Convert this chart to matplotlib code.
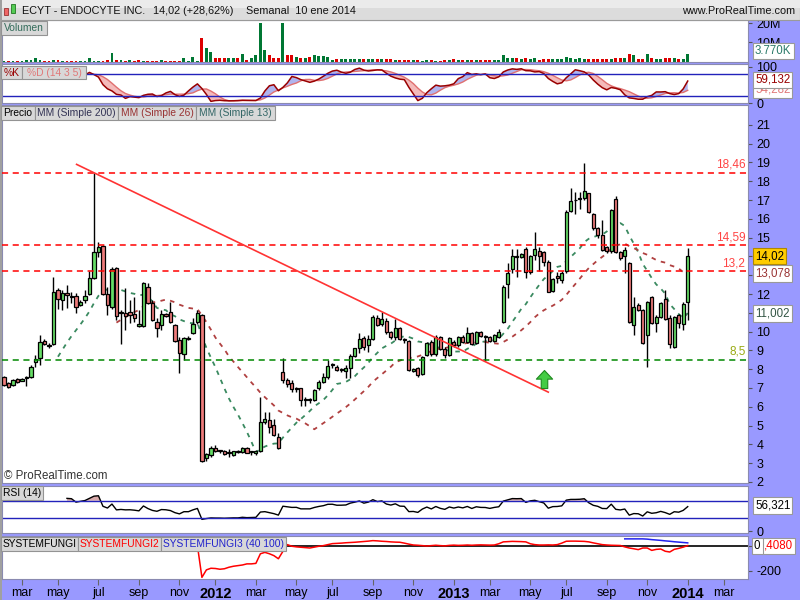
import numpy as np
import pandas as pd
import matplotlib
matplotlib.use('Agg')
import matplotlib.pyplot as plt
import matplotlib.dates as mdates
from matplotlib.patches import Rectangle
from matplotlib.path import Path

plt.rcParams['font.family'] = ['Liberation Sans', 'DejaVu Sans']

# weekly candles, ECYT
dates = pd.date_range('2011-02-07', periods=153, freq='W-MON')
opens = [7.61, 7.29, 7.16, 7.50, 7.39, 7.55, 7.61, 8.37, 8.58, 9.52, 9.26, 9.33, 12.22, 11.68, 12.04, 11.86,
         11.91, 11.40, 11.68, 12.00, 12.84, 14.22, 14.57, 12.00, 11.29, 13.37, 10.98, 10.98, 11.07, 10.92,
         10.30, 10.30, 12.36, 11.54, 10.50, 10.35, 10.94, 11.03, 10.34, 9.56, 8.79, 9.61, 9.91, 10.50,
         10.89, 3.26, 3.42, 3.83, 3.65, 3.67, 3.56, 3.44, 3.62, 3.60, 3.79, 3.58, 3.53, 3.62, 5.21, 5.30,
         5.02, 4.38, 7.84, 7.43, 7.25, 6.98, 6.98, 6.37, 6.38, 6.37, 6.98, 7.30, 7.57, 8.23, 8.14, 7.96,
         7.93, 8.05, 8.72, 9.11, 9.68, 9.27, 9.59, 10.74, 10.39, 10.59, 10.00, 9.70, 10.18, 9.58, 9.52,
         7.91, 8.05, 7.73, 8.76, 9.47, 8.81, 9.70, 9.08, 8.76, 9.47, 9.29, 9.73, 9.47, 9.91, 9.38, 10.00,
         9.73, 9.70, 9.50, 9.73, 10.53, 12.52, 13.32, 13.99, 13.99, 14.38, 13.16, 14.08, 14.31, 14.26,
         13.72, 12.18, 12.96, 12.75, 13.23, 16.44, 17.00, 17.05, 17.09, 17.36, 16.24, 15.50, 15.12, 14.49,
         14.29, 17.04, 14.22, 14.02, 13.63, 10.35, 11.42, 11.13, 9.82, 11.83, 10.44, 10.80, 11.72, 10.71,
         9.20, 10.89, 10.43, 11.56]
highs = [7.65, 7.32, 7.50, 7.55, 7.52, 7.65, 8.20, 8.76, 9.82, 9.60, 9.38, 12.93, 12.30, 12.22, 12.48, 12.13,
         12.04, 11.68, 12.22, 13.20, 18.42, 14.79, 14.60, 12.39, 13.46, 13.46, 11.15, 12.30, 11.68, 11.86,
         11.15, 12.65, 12.57, 11.68, 10.71, 11.15, 11.00, 11.60, 10.40, 9.73, 9.73, 9.75, 10.71, 11.15,
         10.95, 3.55, 3.90, 3.95, 3.70, 3.70, 3.74, 3.65, 3.68, 3.85, 3.85, 3.65, 3.68, 6.54, 5.74, 5.74,
         5.34, 4.59, 8.58, 7.52, 7.43, 7.05, 7.02, 6.54, 6.45, 6.95, 7.43, 7.78, 8.49, 8.35, 8.20, 8.05,
         8.23, 8.80, 9.15, 9.91, 9.77, 9.82, 10.90, 10.89, 11.03, 10.71, 10.05, 10.67, 10.22, 9.65, 9.55,
         8.05, 8.10, 8.72, 9.45, 9.55, 9.80, 9.75, 9.20, 9.73, 9.55, 9.75, 9.80, 10.27, 10.00, 10.05, 10.05,
         9.80, 9.75, 9.85, 10.12, 12.48, 13.63, 14.38, 14.38, 14.20, 14.49, 14.10, 15.32, 14.52, 14.30,
         13.80, 12.85, 13.19, 13.20, 16.45, 17.62, 17.45, 17.45, 18.95, 17.40, 16.30, 15.55, 15.94, 14.55,
         16.50, 17.22, 14.30, 14.52, 13.70, 11.86, 11.50, 11.20, 11.65, 11.90, 10.89, 11.55, 12.22, 10.89,
         10.85, 10.95, 11.60, 14.43]
lows = [7.10, 7.00, 7.10, 7.25, 7.35, 7.10, 7.55, 8.14, 8.23, 9.28, 9.11, 9.28, 11.19, 11.15, 11.24, 11.51,
        10.98, 11.35, 11.51, 11.95, 12.80, 13.99, 11.95, 10.89, 11.20, 10.62, 9.33, 10.09, 10.44, 10.53,
        10.25, 10.25, 11.45, 10.55, 9.73, 10.09, 10.80, 10.45, 9.45, 7.78, 8.49, 9.56, 9.85, 10.40,
        3.05, 3.10, 3.35, 3.60, 3.55, 3.45, 3.35, 3.40, 3.55, 3.55, 3.52, 3.45, 3.45, 3.60, 5.10, 4.59,
        4.45, 3.74, 7.25, 7.07, 6.81, 6.81, 6.05, 6.05, 6.20, 6.30, 6.90, 7.25, 7.50, 8.05, 7.90, 7.85,
        7.52, 7.52, 8.65, 8.85, 9.02, 8.94, 9.55, 10.30, 10.30, 9.88, 9.60, 9.56, 9.56, 9.38, 7.90,
        7.85, 7.60, 7.68, 8.70, 8.72, 8.70, 9.00, 8.58, 8.70, 9.20, 9.20, 9.38, 9.40, 9.28, 9.33, 9.70,
        8.46, 9.45, 9.45, 9.65, 10.44, 11.77, 13.10, 12.89, 13.90, 12.84, 13.05, 13.81, 13.24, 13.50,
        12.10, 12.10, 12.57, 12.60, 13.10, 16.35, 16.24, 16.50, 17.00, 16.30, 15.40, 15.00, 14.30, 14.20,
        14.17, 14.17, 13.80, 13.10, 10.45, 9.82, 11.10, 9.33, 8.14, 10.40, 10.00, 10.75, 10.60, 9.11,
        9.15, 10.20, 10.09, 10.62]
closes = [7.16, 7.04, 7.43, 7.32, 7.48, 7.58, 8.14, 8.53, 9.47, 9.33, 9.28, 12.13, 11.72, 12.07, 11.93, 11.88,
          11.33, 11.60, 11.91, 12.84, 14.22, 14.52, 12.00, 11.40, 13.32, 10.83, 11.05, 10.85, 10.89, 10.71,
          10.43, 12.61, 11.51, 10.62, 10.18, 10.96, 10.85, 10.50, 9.50, 8.85, 9.68, 9.68, 10.39, 10.98,
          3.09, 3.49, 3.79, 3.65, 3.63, 3.49, 3.57, 3.62, 3.60, 3.79, 3.56, 3.60, 3.64, 5.21, 5.34, 4.95,
          4.50, 3.83, 7.43, 7.20, 6.93, 6.96, 6.37, 6.38, 6.37, 6.90, 7.30, 7.61, 8.19, 8.21, 7.96, 7.98,
          8.05, 8.72, 9.11, 9.63, 9.17, 9.59, 10.76, 10.35, 10.67, 9.96, 9.70, 10.18, 9.61, 9.56, 7.96,
          8.01, 7.68, 8.67, 9.38, 8.79, 9.70, 9.10, 8.76, 9.65, 9.29, 9.70, 9.43, 9.95, 9.34, 9.96, 9.77,
          9.75, 9.50, 9.80, 10.00, 12.39, 13.14, 14.04, 14.01, 14.11, 13.19, 14.04, 14.38, 14.02, 13.71,
          12.13, 12.78, 12.84, 13.10, 16.38, 16.97, 16.98, 17.09, 17.50, 16.35, 15.50, 15.14, 14.34, 14.29,
          16.45, 14.22, 13.90, 14.34, 10.50, 11.29, 11.15, 9.38, 11.60, 10.44, 10.76, 11.51, 10.66, 9.33,
          10.76, 10.44, 11.47, 14.02]
# volume in millions
volumes = [0.5, 0.5, 0.3, 0.3, 0.3, 0.9, 0.9, 2.1, 0.9, 0.5, 0.4, 0.9, 0.9, 0.4, 0.4, 0.4, 0.5, 0.3, 0.5, 1.75,
           0.5, 0.3, 0.5, 1.0, 4.4, 1.0, 0.9, 0.5, 0.9, 0.5, 1.0, 0.5, 0.5, 0.5, 0.5, 1.0, 0.5, 0.5, 0.5, 0.5,
           1.75, 0.5, 2.6, 0.5, 12.3, 7.2, 4.9, 1.9, 1.75, 1.75, 1.75, 1.75, 1.75, 3.7, 1.0, 1.75, 3.5, 20.2,
           6.3, 3.2, 2.1, 2.1, 20.2, 3.5, 3.5, 2.5, 2.1, 1.9, 2.6, 3.2, 2.9, 2.9, 2.3, 1.0, 1.2, 1.2, 1.2, 1.2,
           1.2, 1.2, 1.2, 1.2, 1.2, 1.2, 1.4, 1.2, 1.2, 0.8, 0.9, 1.0, 0.9, 0.9, 0.8, 0.5, 0.9, 0.8, 0.5, 0.5,
           0.8, 0.9, 1.2, 0.9, 0.9, 1.0, 0.9, 0.9, 0.8, 0.9, 1.0, 0.9, 1.0, 3.2, 1.9, 1.9, 1.75, 1.2, 1.75,
           1.2, 1.75, 0.9, 1.2, 1.2, 1.2, 1.2, 1.2, 2.6, 1.9, 1.4, 1.9, 1.2, 1.2, 1.2, 1.2, 1.2, 1.2, 1.4,
           1.75, 1.75, 1.9, 3.9, 3.2, 1.4, 1.2, 3.9, 1.9, 1.4, 1.5, 1.75, 1.75, 1.75, 1.4, 1.4, 3.9]

# custom indicators of the bottom panel (first index shown)
sf2_start = 43
sf2 = [0, -254, -194, -181, -183, -189, -185, -173, -165, -160, -155, -146, -146, -142, -65, -54, -65, -80,
       -105, -46, 8, -5, -10, -13, -16, -19, -12, -5, 0, 8, 16, 18, 20, 23, 25, 27, 30, 33, 36, 40, 38, 35,
       33, 30, 28, 27, 20, 12, 5, 3, 0, -3, 0, 3, 0, -2, 2, 4, 2, 3, 5, 3, 5, 6, 5, 4, 5, 15, 30, 32, 34,
       33, 32, 30, 15, 8, 5, 5, 6, 5, 8, 20, 35, 36, 36, 35, 34, 30, 22, 15, 8, 5, 3, 2, 1, -10, -19, -25,
       -32, -19, -19, -38, -30, -27, -45, -51, -30, -22, -12, 0.4]
sf3_start = 138
sf3 = [54, 54, 54, 54, 54, 52, 48, 45, 42, 38, 35, 31, 28, 25, 22]
sf1_level = 0

red_levels = [18.46, 14.59, 13.2]
red_level_labels = ['18,46', '14,59', '13,2']
green_level = 8.5
trend_dates = ['2011-05-31', '2013-06-03']
trend_prices = [18.90, 6.78]
arrow_date = '2013-05-27'
arrow_price = 7.5

month_abbr = ['ene', 'feb', 'mar', 'abr', 'may', 'jun', 'jul', 'ago', 'sep', 'oct', 'nov', 'dic']
price_ticks = list(range(2, 22))

W, H = 800, 600
fig = plt.figure(figsize=(8, 6), dpi=100, facecolor='#9999ff')


def panel(top, bottom):
    return [2 / W, 1 - bottom / H, 746 / W, (bottom - top) / H]


ax_vol = fig.add_axes(panel(20, 61.5))
ax_sto = fig.add_axes(panel(63.5, 103), sharex=ax_vol)
ax_p = fig.add_axes(panel(105, 482.5), sharex=ax_vol)
ax_rsi = fig.add_axes(panel(485.5, 532.5), sharex=ax_vol)
ax_sf = fig.add_axes(panel(535.5, 579), sharex=ax_vol)
axes = [ax_vol, ax_sto, ax_p, ax_rsi, ax_sf]

x = mdates.date2num(dates)
o = np.array(opens)
h = np.array(highs)
l = np.array(lows)
c = np.array(closes)
cs = pd.Series(closes)

# price candles
up = c >= o
ax_p.vlines(x, l, h, color='black', lw=1, zorder=3)
ax_p.bar(x, np.maximum(np.abs(c - o), 0.05), bottom=np.minimum(o, c), width=5,
         color=np.where(up, '#66dd66', '#ee7b7b'), edgecolor='black', lw=0.9, zorder=4)

ma13 = cs.rolling(13).mean()
ma26 = cs.rolling(26).mean()
ax_p.plot(x, ma13, color='#3a8a60', lw=1.3, ls=(0, (2.5, 3)), zorder=2)
ax_p.plot(x, ma26, color='#b04040', lw=1.3, ls=(0, (2.5, 3)), zorder=2)

for v, s in zip(red_levels, red_level_labels):
    ax_p.axhline(v, color='#ff0000', lw=1.1, ls=(0, (4, 3)), zorder=5)
    ax_p.text(0.9965, v + 0.12, s, transform=ax_p.get_yaxis_transform(), ha='right', va='bottom',
              color='#ff4444', fontsize=8.5)
ax_p.axhline(green_level, color='#008800', lw=1.1, ls=(0, (4, 3)), zorder=5)
ax_p.text(0.9965, green_level + 0.12, '8,5', transform=ax_p.get_yaxis_transform(), ha='right',
          va='bottom', color='#99aa11', fontsize=8.5)

ax_p.plot(mdates.datestr2num(trend_dates), trend_prices, color='#ff3333', lw=1.2, zorder=5)

# up-arrow signal
arrow_marker = Path([(-0.18, -0.5), (0.18, -0.5), (0.18, 0.02), (0.45, 0.02), (0.0, 0.5),
                     (-0.45, 0.02), (-0.18, 0.02), (-0.18, -0.5)])
ax_p.plot([mdates.datestr2num(arrow_date)], [arrow_price], marker=arrow_marker, ms=13, mfc='#44cc44',
          mec='#1f8a1f', mew=0.8, ls='none', zorder=6)

ax_p.set_ylim(1.97, 22.06)
ax_p.set_yticks(price_ticks, [str(t) for t in price_ticks])
for t, lab in zip(price_ticks, ax_p.get_yticklabels()):
    if t % 5 == 0:
        lab.set_fontweight('bold')
        lab.set_fontsize(10)

# volume
vol = np.array(volumes) * 1e6
vup = np.concatenate([[True], c[1:] >= c[:-1]])
ax_vol.bar(x, vol, width=4.5, color=np.where(vup, '#007733', '#dd0000'), lw=0)
ax_vol.set_ylim(0, 21.8e6)
ax_vol.set_yticks([10e6, 20e6], ['10M', '20M'])

# stochastic 14 3 5
hh = pd.Series(highs).rolling(14).max()
ll = pd.Series(lows).rolling(14).min()
k = (100 * (cs - ll) / (hh - ll)).rolling(3).mean()
d = k.rolling(5).mean()
ax_sto.fill_between(x, k, d, where=k >= d, color='#b0b4ee', interpolate=True, lw=0)
ax_sto.fill_between(x, k, d, where=k < d, color='#f4baba', interpolate=True, lw=0)
ax_sto.plot(x, d, color='#e07070', lw=1)
ax_sto.plot(x, k, color='#990000', lw=1.1)
for lv in (20, 80):
    ax_sto.axhline(lv, color='#2222bb', lw=1)
ax_sto.set_ylim(0, 109)
ax_sto.set_yticks([0, 100], ['0', '100'])
for lab in ax_sto.get_yticklabels():
    lab.set_fontweight('bold')
    lab.set_fontsize(10)

# RSI 14
delta = cs.diff()
ag = delta.clip(lower=0).ewm(alpha=1 / 14, adjust=False, min_periods=14).mean()
al = (-delta.clip(upper=0)).ewm(alpha=1 / 14, adjust=False, min_periods=14).mean()
rsi = 100 - 100 / (1 + ag / al)
ax_rsi.fill_between(x, rsi, 70, where=rsi > 70, color='#d9aaaa', interpolate=True, lw=0)
ax_rsi.plot(x, rsi, color='black', lw=1)
for lv in (30, 70):
    ax_rsi.axhline(lv, color='#2222bb', lw=1)
ax_rsi.set_ylim(-3, 105)
ax_rsi.set_yticks([0], ['0'])
ax_rsi.get_yticklabels()[0].set_fontweight('bold')
ax_rsi.get_yticklabels()[0].set_fontsize(10)

# SYSTEMFUNGI panel
ax_sf.axhline(sf1_level, color='black', lw=1.2)
ax_sf.plot(x[sf2_start:sf2_start + len(sf2)], sf2, color='#ff0000', lw=1.1)
ax_sf.plot(x[sf3_start:sf3_start + len(sf3)], sf3, color='#2222ee', lw=1.1)
ax_sf.set_ylim(-267, 81)
ax_sf.set_yticks([-200, 0], ['-200', '0'])

# x axis
ext = pd.date_range('2011-02-07', '2014-04-28', freq='W-MON')
tick_dates, tick_labels = [], []
for i, dt in enumerate(ext):
    if dt.month % 2 == 1 and (i == 0 or ext[i - 1].month != dt.month):
        tick_dates.append(mdates.date2num(dt))
        tick_labels.append(str(dt.year) if dt.month == 1 else month_abbr[dt.month - 1])
ax_sf.set_xticks(tick_dates, tick_labels)
ax_sf.set_xlim(x[0] - 3.1, x[-1] + 93.8)

for ax in axes:
    ax.set_facecolor('white')
    ax.yaxis.tick_right()
    ax.tick_params(axis='y', labelsize=9, length=3, color='#555555', pad=3)
    ax.tick_params(axis='x', length=4, color='#666666', pad=1.5, labelsize=9)
    for sp in ax.spines.values():
        sp.set_color('#8a8ab0')
        sp.set_linewidth(0.8)
    if ax is not ax_sf:
        ax.tick_params(axis='x', labelbottom=False, length=0)

for lab in ax_sf.get_xticklabels():
    if lab.get_text().isdigit():
        lab.set_fontweight('bold')
        lab.set_fontsize(10.5)


def fig_rect(x0, y0, x1, y1, **kw):
    fig.patches.append(Rectangle((x0 / W, 1 - y1 / H), (x1 - x0) / W, (y1 - y0) / H,
                                 transform=fig.transFigure, **kw))


def tag(x0, x1, y0, y1, text, color):
    fig_rect(x0, y0, x1, y1, facecolor='#d8d8d8', edgecolor='#939393', lw=0.8, zorder=10)
    fig.text((x0 + x1) / 2 / W, 1 - (y0 + y1) / 2 / H, text, ha='center', va='center',
             fontsize=7.4, color=color, zorder=11)


def value_box(xl, y, text, color, face='white', edge='#999999'):
    fig.text(xl / W, 1 - y / H, text, ha='left', va='center', fontsize=8.3, color=color, zorder=12,
             bbox=dict(boxstyle='square,pad=0.18', fc=face, ec=edge, lw=0.8))


# title bar
fig_rect(0, 0, 800, 20, facecolor='#dcdcdc', edgecolor='#9a9a9a', lw=0.8, zorder=9)
fig_rect(0, 0, 800, 8, facecolor='#ebebeb', lw=0, zorder=9)
fig_rect(0, 0, 2, 600, facecolor='#a0a0a0', lw=0, zorder=9)
fig_rect(4, 8, 8, 15, facecolor='#ee6666', edgecolor='#993333', lw=0.6, zorder=10)
fig_rect(11, 4, 15, 13, facecolor='#55cc55', edgecolor='#227722', lw=0.6, zorder=10)
for xt, s in [(22, 'ECYT - ENDOCYTE INC.'), (153, '14,02 (+28,62%)'), (246, 'Semanal  10 ene 2014')]:
    fig.text(xt / W, 1 - 10.5 / H, s, va='center', fontsize=7.8, color='#111111', zorder=11)
fig.text(795 / W, 1 - 10.5 / H, 'www.ProRealTime.com', va='center', ha='right', fontsize=7.8,
         color='#111111', zorder=11)

tag(1, 47, 21, 35, 'Volumen', '#336b5a')
tag(1, 22, 66, 79, '%K', '#990000')
tag(22, 86, 66, 79, '%D (14 3 5)', '#e07878')
tag(1, 35, 106, 120, 'Precio', 'black')
tag(35, 118, 106, 120, 'MM (Simple 200)', '#333355')
tag(118, 196, 106, 120, 'MM (Simple 26)', '#993333')
tag(196, 275, 106, 120, 'MM (Simple 13)', '#336666')
tag(1, 43, 486, 500, 'RSI (14)', 'black')
tag(1, 78, 537, 551, 'SYSTEMFUNGI', 'black')
tag(78, 161, 537, 551, 'SYSTEMFUNGI2', '#ff0000')
tag(161, 286, 537, 551, 'SYSTEMFUNGI3 (40 100)', '#2222cc')

fig.text(4 / W, 1 - 476 / H, '© ProRealTime.com', va='center', fontsize=8.3, color='#333333', zorder=11)

value_box(755, 51, '3.770K', '#2a7a6a')
value_box(755, 90, '54,282', '#e07878')
value_box(755, 80, '59,132', '#990000')
value_box(755, 256, '14,02', 'black', face='#ffcc00', edge='#b08800')
value_box(755, 273.5, '13,078', '#993333')
value_box(755, 313.5, '11,002', '#335544')
value_box(755, 505.5, '56,321', 'black')
value_box(763.5, 546, ',4080', '#ff0000')
value_box(754, 546, '0', 'black')

fig.savefig('out.png', dpi=100, facecolor=fig.get_facecolor())
